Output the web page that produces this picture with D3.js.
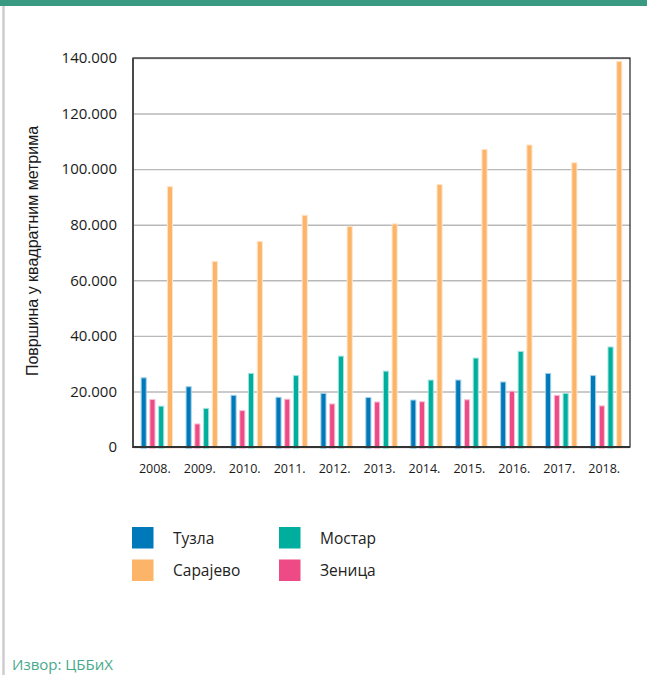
<!DOCTYPE html>
<html>
<head>
<meta charset="utf-8">
<script src="https://cdn.jsdelivr.net/npm/d3@7"></script>
<style>
  html, body { margin: 0; padding: 0; background: #fff; }
  svg { display: block; }
</style>
</head>
<body>
<script>
// Years on the x axis
const years = ["2008.", "2009.", "2010.", "2011.", "2012.", "2013.", "2014.", "2015.", "2016.", "2017.", "2018."];

// Floor area (m²) per city and year
const tuzla    = [24900, 21700, 18600, 17900, 19300, 17800, 16900, 24100, 23400, 26500, 25700];
const zenica   = [17100,  8300, 13100, 17200, 15500, 16200, 16300, 17000, 20100, 18600, 14800];
const mostar   = [14700, 13900, 26500, 25700, 32700, 27300, 24100, 32000, 34400, 19300, 36000];
const sarajevo = [93700, 66800, 74000, 83400, 79400, 80300, 94500, 107100, 108700, 102300, 138800];

// Y axis ticks
const yTicks = [0, 20000, 40000, 60000, 80000, 100000, 120000, 140000];

// Series in the order they sit inside each year group
const seriesNames = ["Тузла", "Зеница", "Мостар", "Сарајево"];
const seriesValues = [tuzla, zenica, mostar, sarajevo];
const seriesColors = ["#0079bb", "#ee4a86", "#00ae9d", "#fbb468"];

// Legend layout: two columns
const legendOrder = ["Тузла", "Сарајево", "Мостар", "Зеница"];

const W = 647, H = 675;
const plot = { left: 133, right: 630, top: 58, bottom: 447 };

const svg = d3.select("body").append("svg")
  .attr("width", W).attr("height", H);

svg.append("rect").attr("width", W).attr("height", H).attr("fill", "#fff");

// Top accent band and left rule
svg.append("rect").attr("x", 0).attr("y", 0).attr("width", W).attr("height", 6)
  .attr("fill", "#399a81");
svg.append("line").attr("x1", 3.5).attr("x2", 3.5).attr("y1", 6).attr("y2", H)
  .attr("stroke", "#cccccc").attr("stroke-width", 2.5);

const x = d3.scaleBand().domain(years)
  .range([plot.left, plot.right])
  .paddingInner(0.28).paddingOuter(0.17);

const xInner = d3.scaleBand().domain(seriesNames)
  .range([0, x.bandwidth()])
  .paddingInner(0.3);

const y = d3.scaleLinear().domain([0, 140000]).range([plot.bottom, plot.top]);

const locale = d3.formatLocale({ decimal: ",", thousands: ".", grouping: [3], currency: ["", ""] });
const fmt = locale.format(",");

// Gridlines
const grid = svg.append("g")
  .attr("transform", `translate(${plot.left},0)`)
  .call(d3.axisLeft(y).tickValues(yTicks).tickSize(-(plot.right - plot.left)).tickFormat(""));
grid.select(".domain").remove();
grid.selectAll("line").attr("stroke", "#b9b9b9").attr("stroke-width", 1.4);

// Y tick labels
const yAxis = svg.append("g")
  .attr("transform", `translate(${plot.left},0)`)
  .call(d3.axisLeft(y).tickValues(yTicks).tickSize(0).tickPadding(16).tickFormat(fmt));
yAxis.select(".domain").remove();
yAxis.selectAll("text")
  .attr("font-family", "'Open Sans', sans-serif")
  .attr("font-size", 15)
  .attr("fill", "#1a1a1a");

// Bars
const rows = years.map((yr, i) => ({ year: yr, vals: seriesNames.map((n, k) => ({ name: n, v: seriesValues[k][i], c: seriesColors[k] })) }));

const groups = svg.append("g").selectAll("g")
  .data(rows).join("g")
  .attr("transform", d => `translate(${x(d.year)},0)`);

groups.selectAll("rect")
  .data(d => d.vals).join("rect")
  .attr("x", d => xInner(d.name) + 0.5)
  .attr("width", xInner.bandwidth() - 1)
  .attr("y", d => y(d.v))
  .attr("height", d => y(0) + 1.5 - y(d.v))
  .attr("fill", d => d.c)
  .attr("stroke", d => d3.interpolateRgb(d.c, "#ffffff")(0.65))
  .attr("stroke-width", 1);

// Frame
svg.append("rect")
  .attr("x", plot.left).attr("y", plot.top)
  .attr("width", plot.right - plot.left).attr("height", plot.bottom - plot.top)
  .attr("fill", "none").attr("stroke", "#222").attr("stroke-width", 1.2);
svg.append("line")
  .attr("x1", plot.left).attr("x2", plot.left).attr("y1", plot.top).attr("y2", plot.bottom + 1)
  .attr("stroke", "#4a4a4a").attr("stroke-width", 2);
svg.append("line")
  .attr("x1", plot.left).attr("x2", plot.right).attr("y1", plot.bottom).attr("y2", plot.bottom)
  .attr("stroke", "#333").attr("stroke-width", 2);

// X labels
const xAxis = svg.append("g")
  .attr("transform", `translate(-2,${plot.bottom})`)
  .call(d3.axisBottom(x).tickSize(0).tickPadding(17));
xAxis.select(".domain").remove();
xAxis.selectAll("text")
  .attr("font-family", "'Open Sans', sans-serif")
  .attr("font-size", 12.5)
  .attr("fill", "#1a1a1a");

// Y axis title
svg.append("text")
  .attr("transform", "translate(38,251) rotate(-90)")
  .attr("text-anchor", "middle")
  .attr("font-family", "'Liberation Sans', Arial, sans-serif")
  .attr("font-size", 16)
  .attr("fill", "#1a1a1a")
  .text("Површина у квадратним метрима");

// Legend
const legend = svg.append("g");
const legendItems = legend.selectAll("g")
  .data(legendOrder).join("g")
  .attr("transform", (d, i) => `translate(${132 + Math.floor(i / 2) * 147},${527 + (i % 2) * 32.5})`);
legendItems.append("rect")
  .attr("width", 21.5).attr("height", 21.5)
  .attr("fill", d => seriesColors[seriesNames.indexOf(d)]);
legendItems.append("text")
  .attr("x", 41).attr("y", 16.5)
  .attr("font-family", "'Open Sans', sans-serif")
  .attr("font-size", 15.5)
  .attr("fill", "#222")
  .text(d => d);

// Source note
svg.append("text")
  .attr("x", 12).attr("y", 670)
  .attr("font-family", "'Open Sans', sans-serif")
  .attr("font-size", 15)
  .attr("fill", "#47a98b")
  .text("Извор: ЦББиХ");
</script>
</body>
</html>
